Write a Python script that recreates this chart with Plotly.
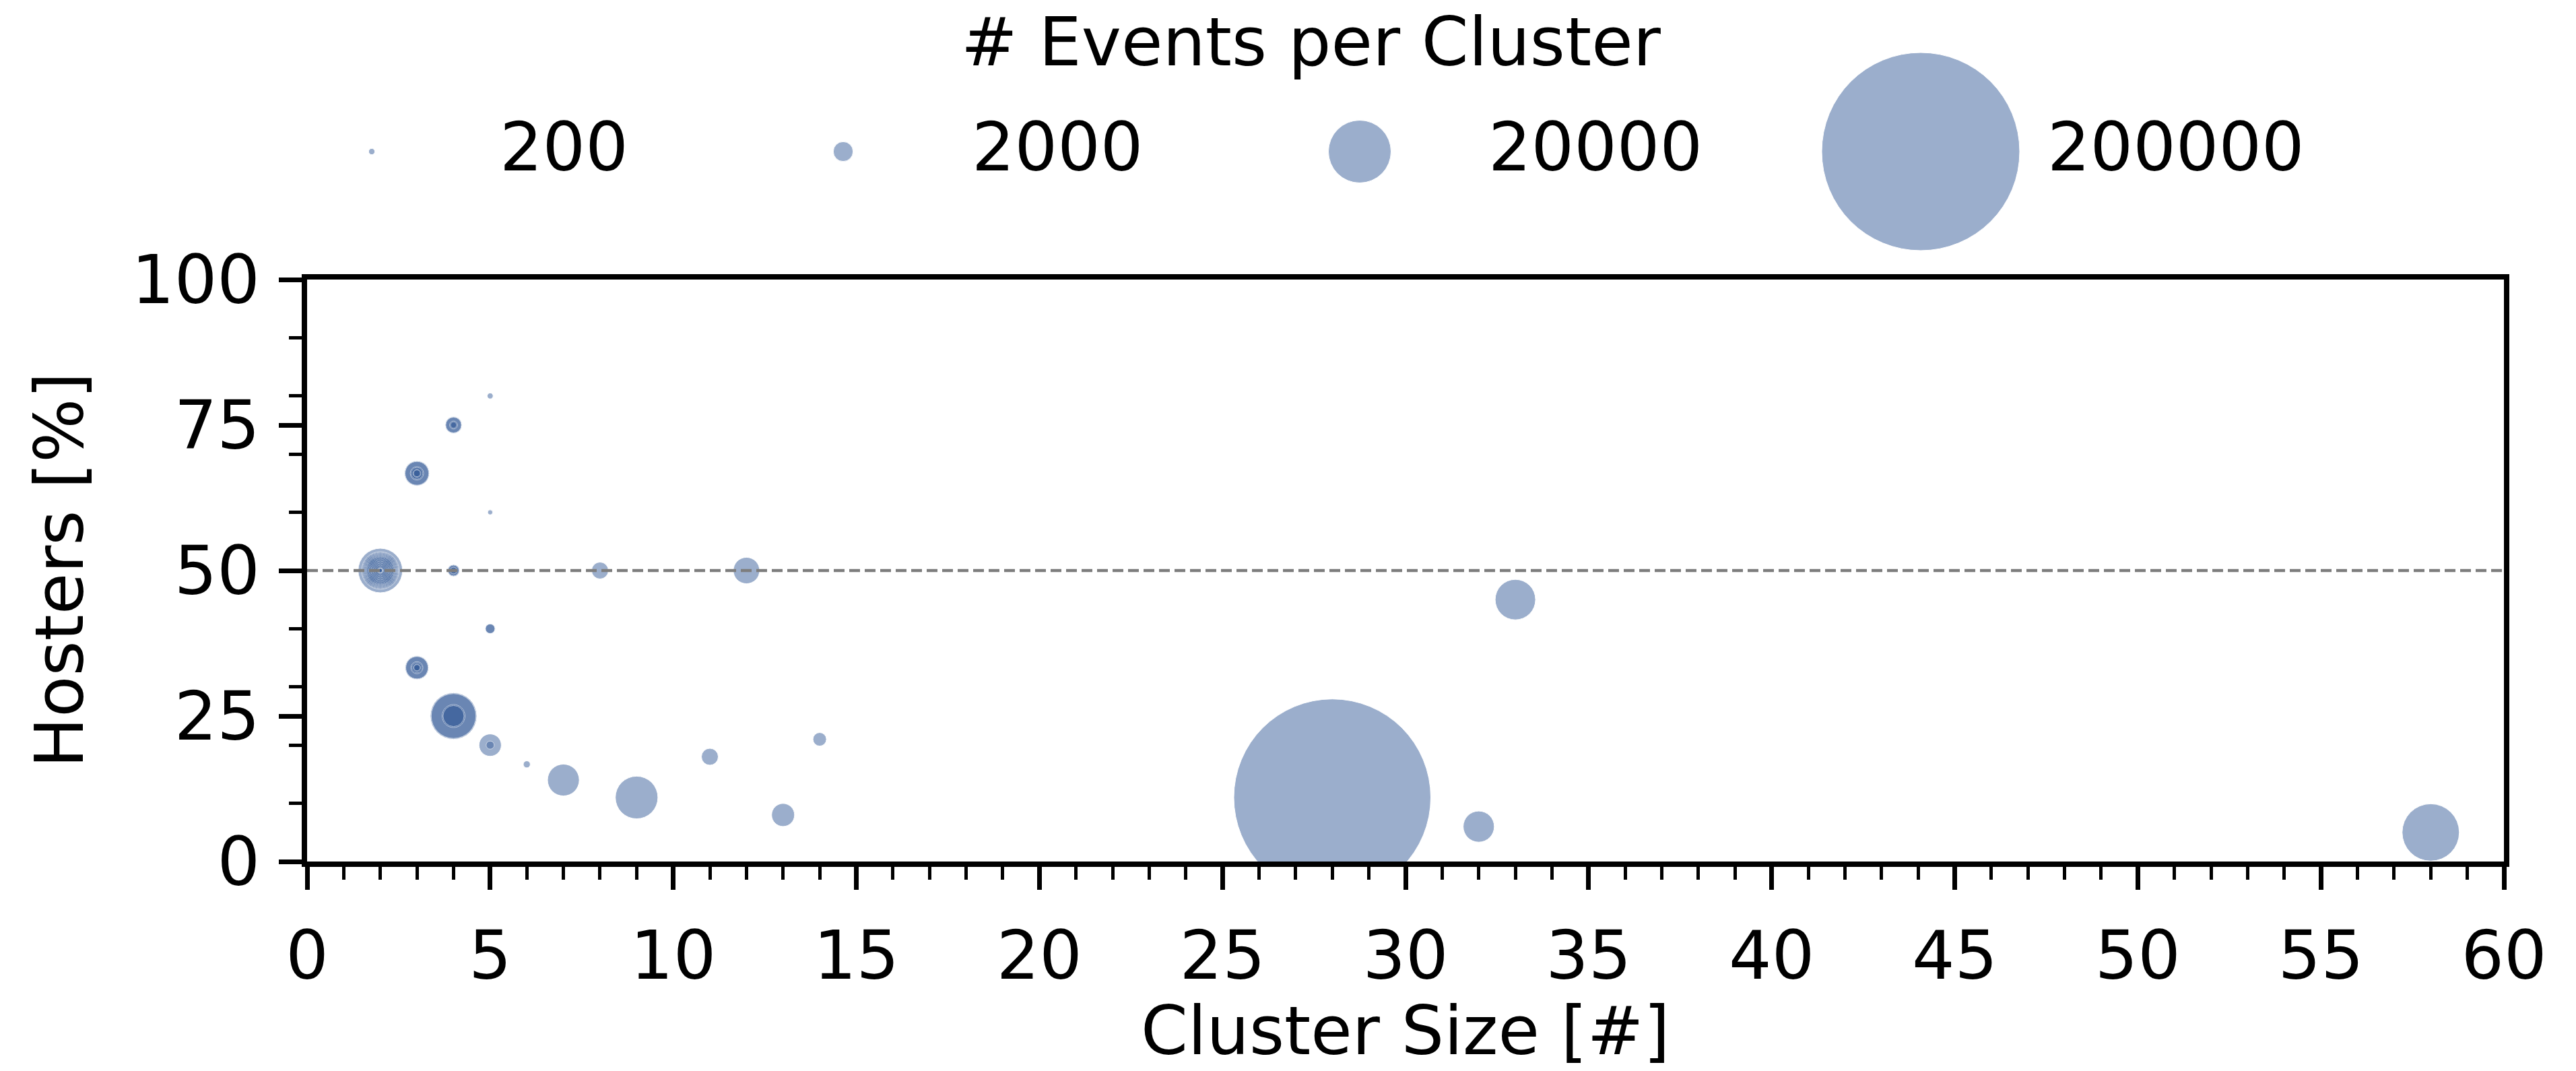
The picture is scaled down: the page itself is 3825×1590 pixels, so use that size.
import numpy as np
import plotly.graph_objects as go

# Each entry is one cluster: size, share of hosters and number of events.
cluster_size = [
    5,
    4, 4, 4, 4,
    3, 3, 3, 3, 3, 3,
    5,
    2, 2, 2, 2, 2, 2, 2, 2, 2, 2, 2, 2, 2, 2, 2, 2, 2, 2, 2, 2, 2, 2, 2,
    4, 4, 4,
    8,
    12,
    33,
    5, 5,
    3, 3, 3, 3, 3, 3,
    4, 4, 4, 4,
    5, 5,
    14,
    11,
    6,
    7,
    9,
    28,
    13,
    32,
    58,
]
hosters_pct = [
    80,
    75, 75, 75, 75,
    66.7, 66.7, 66.7, 66.7, 66.7, 66.7,
    60,
    50, 50, 50, 50, 50, 50, 50, 50, 50, 50, 50, 50, 50, 50, 50, 50, 50, 50, 50, 50, 50, 50, 50,
    50, 50, 50,
    50,
    50,
    45,
    40, 40,
    33.3, 33.3, 33.3, 33.3, 33.3, 33.3,
    25, 25, 25, 25,
    20, 20,
    21,
    18,
    16.7,
    14,
    11,
    11,
    8,
    6,
    5,
]
events = [
    180,
    1450, 1250, 330, 190,
    3190, 2850, 930, 670, 335, 230,
    130,
    10080, 7256, 6747, 6257, 5785, 5331, 4896, 4480, 4082, 3702, 3168, 2675,
    2224, 1814, 1446, 1120, 835, 592, 391, 231, 148, 113, 83,
    755, 600, 230,
    1450,
    3540,
    8330,
    520, 450,
    2850, 2540, 755, 520, 280, 190,
    11100, 10200, 2700, 2250,
    2540, 335,
    930,
    1450,
    250,
    5150,
    9250,
    198000,
    2690,
    4930,
    16700,
]

legend_values = [200, 2000, 20000, 200000]
legend_labels = ["200", "2000", "20000", "200000"]

x_ticks = list(range(0, 61, 5))
y_ticks = [0, 25, 50, 75, 100]

W, H = 3825, 1590
FONT = "DejaVu Sans"
BUBBLE = "rgb(58,96,155)"
REF_EVENTS, REF_DIAM = 200000, 294.0


def diameter(ev):
    """Bubble area grows linearly with the number of events."""
    return REF_DIAM * np.sqrt(np.asarray(ev, dtype=float) / REF_EVENTS)


# draw larger bubbles first so nested ones stay visible
order = np.argsort(-np.asarray(events), kind="stable")
xs = np.asarray(cluster_size, dtype=float)[order]
ys = np.asarray(hosters_pct, dtype=float)[order]
ev = np.asarray(events, dtype=float)[order]

# plot-area placement in pixels
L, R, T, B = 456, 3718, 415, 1279

fig = go.Figure()
fig.add_trace(go.Scatter(
    x=xs, y=ys, mode="markers",
    marker=dict(size=diameter(ev), sizemode="diameter", color=BUBBLE,
                opacity=0.5, line=dict(color="white", width=1)),
    cliponaxis=True, showlegend=False, hoverinfo="skip",
    xaxis="x", yaxis="y",
))

# size legend drawn on a pixel-space overlay axis
leg_x = [552, 1252, 2019, 2852]
leg_y = [225] * 4
fig.add_trace(go.Scatter(
    x=leg_x, y=leg_y, mode="markers",
    marker=dict(size=diameter(legend_values), sizemode="diameter", color=BUBBLE,
                opacity=0.5, line=dict(color="white", width=1)),
    cliponaxis=False, showlegend=False, hoverinfo="skip",
    xaxis="x2", yaxis="y2",
))

label_left = [740, 1441, 2208, 3038]
annotations = []
for lx, txt in zip(label_left, legend_labels):
    annotations.append(dict(
        x=lx, y=218, xref="x2", yref="y2", text=txt, showarrow=False,
        xanchor="left", yanchor="middle", font=dict(family=FONT, size=100, color="black"),
    ))
annotations.append(dict(
    x=1947, y=62, xref="x2", yref="y2", text="# Events per Cluster", showarrow=False,
    xanchor="center", yanchor="middle", font=dict(family=FONT, size=100, color="black"),
))
annotations.append(dict(
    x=(L + R) / 2, y=1530, xref="x2", yref="y2", text="Cluster Size [#]", showarrow=False,
    xanchor="center", yanchor="middle", font=dict(family=FONT, size=100, color="black"),
))
annotations.append(dict(
    x=88, y=(T + B) / 2, xref="x2", yref="y2", text="Hosters [%]", showarrow=False,
    textangle=-90, xanchor="center", yanchor="middle",
    font=dict(family=FONT, size=100, color="black"),
))

axis_common = dict(
    showgrid=False, zeroline=False, showline=True, linecolor="black", linewidth=8,
    mirror=True, ticks="outside", tickcolor="black", ticklen=34, tickwidth=7,
    tickfont=dict(family=FONT, size=100, color="black"), fixedrange=True,
)

fig.update_layout(
    width=W, height=H,
    margin=dict(l=0, r=0, t=0, b=0, autoexpand=False),
    paper_bgcolor="white", plot_bgcolor="rgba(0,0,0,0)",
    xaxis=dict(
        domain=[L / W, R / W], range=[0, 60], tickvals=x_ticks,
        ticktext=[str(v) for v in x_ticks], ticklabelstandoff=12,
        minor=dict(dtick=1, tick0=0, ticks="outside", ticklen=19, tickwidth=5, tickcolor="black"),
        anchor="y", **axis_common,
    ),
    yaxis=dict(
        domain=[(H - B) / H, (H - T) / H], range=[0, 100], tickvals=y_ticks,
        ticktext=[str(v) for v in y_ticks], ticklabelstandoff=8,
        minor=dict(dtick=10, tick0=0, ticks="outside", ticklen=19, tickwidth=5, tickcolor="black"),
        anchor="x", **axis_common,
    ),
    xaxis2=dict(domain=[0, 1], range=[0, W], visible=False, fixedrange=True, anchor="y2"),
    yaxis2=dict(domain=[0, 1], range=[H, 0], visible=False, fixedrange=True, anchor="x2"),
    annotations=annotations,
    shapes=[dict(
        type="line", xref="x", yref="y", x0=0, x1=60, y0=50, y1=50, layer="above",
        line=dict(color="rgb(125,125,125)", width=4.5, dash="16px,7px"),
    )],
)

fig.write_html("out.html")
